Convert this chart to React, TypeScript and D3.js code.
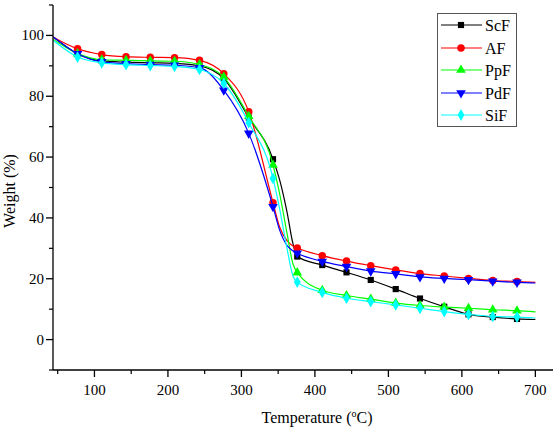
import React from "react";
import * as d3 from "d3";

const lineTemps = [44, 77, 110, 143, 176, 209, 243, 276, 310, 343, 352, 362, 370, 376, 410, 443, 476, 510, 543, 576, 609, 642, 675, 700];
const markerTemps = [77, 110, 143, 176, 209, 243, 276, 310, 343, 376, 410, 443, 476, 510, 543, 576, 609, 642, 675];

const scF = [99.5, 94.0, 91.6, 91.2, 91.0, 90.8, 90.0, 85.8, 73.0, 59.3, 52.5, 42, 31.7, 27.3, 24.5, 22.1, 19.6, 16.6, 13.5, 10.8, 8.3, 7.4, 6.8, 6.6];
const aF = [99.4, 95.6, 93.7, 93.0, 92.8, 92.7, 91.8, 87.4, 74.9, 45.0, 37, 32.5, 30.8, 30.1, 27.6, 25.8, 24.3, 22.9, 21.7, 20.9, 20.1, 19.4, 19.1, 18.8];
const ppF = [98.7, 94.0, 92.0, 91.8, 91.6, 91.5, 90.4, 86.3, 73.4, 57.4, 48, 35, 25, 22.0, 16.2, 14.5, 13.3, 12.0, 11.2, 10.7, 10.3, 9.8, 9.5, 9.1];
const pdF = [99.5, 94.0, 91.3, 90.7, 90.4, 90.2, 89.4, 82.0, 67.8, 43.7, 36, 31, 29.2, 28.4, 25.7, 24.0, 22.5, 21.6, 20.6, 20.1, 19.7, 19.2, 18.8, 18.6];
const siF = [98.3, 92.9, 91.0, 90.4, 90.1, 89.8, 88.8, 84.2, 71.3, 53, 43, 30, 21, 18.9, 15.5, 13.6, 12.5, 11.4, 10.3, 9.2, 8.3, 7.6, 7.4, 7.1];

const seriesNames = ["ScF", "AF", "PpF", "PdF", "SiF"];
const seriesValues = [scF, aF, ppF, pdF, siF];
const seriesColors = ["#000000", "#ff0000", "#00ff00", "#0000ff", "#00ffff"];
const seriesSymbols = [d3.symbolSquare, d3.symbolCircle, d3.symbolTriangle, d3.symbolTriangle, d3.symbolDiamond];
const seriesRotate = [0, 0, 0, 180, 0];
const symbolSizes = [38, 44, 40, 40, 40];

const xMajorTicks = [100, 200, 300, 400, 500, 600, 700];
const xMinorTicks = [50, 150, 250, 350, 450, 550, 650];
const yMajorTicks = [0, 20, 40, 60, 80, 100];
const yMinorTicks = [-10, 10, 30, 50, 70, 90, 110];

const FONT = "'Liberation Serif', 'Times New Roman', serif";

export default function App() {
  const x = d3.scaleLinear().domain([43.6, 724]).range([53, 553]);
  const y = d3.scaleLinear().domain([-10, 110]).range([370, 5]);
  const line = d3
    .line<[number, number]>()
    .x((d) => x(d[0]))
    .y((d) => y(d[1]))
    .curve(d3.curveMonotoneX);

  const legendY = [25, 48, 70, 93, 115];

  return (
    <svg width={557} height={428} style={{ position: "absolute", left: 0, top: 0, background: "#fff" }}>
      <rect x={0} y={0} width={557} height={428} fill="#fff" />
      {seriesValues.map((vals, si) => {
        const pts: [number, number][] = lineTemps.map((t, i) => [t, vals[i]]);
        const sym = d3.symbol().type(seriesSymbols[si]).size(symbolSizes[si])();
        return (
          <g key={si}>
            <path d={line(pts) || ""} fill="none" stroke={seriesColors[si]} strokeWidth={1.2} />
            {pts
              .filter((p) => markerTemps.includes(p[0]))
              .map((p, i) => (
                <path
                  key={i}
                  d={sym || ""}
                  fill={seriesColors[si]}
                  transform={`translate(${x(p[0])},${y(p[1])}) rotate(${seriesRotate[si]})`}
                />
              ))}
          </g>
        );
      })}
      {/* axes */}
      <line x1={53} x2={53} y1={5} y2={370} stroke="#000" strokeWidth={1.3} />
      <line x1={53} x2={553} y1={370} y2={370} stroke="#000" strokeWidth={1.3} />
      {yMajorTicks.map((t) => (
        <g key={"ym" + t}>
          <line x1={46} x2={53} y1={y(t)} y2={y(t)} stroke="#000" strokeWidth={1.3} />
          <text x={44} y={y(t) + 5} textAnchor="end" fontFamily={FONT} fontSize={15}>
            {t}
          </text>
        </g>
      ))}
      {yMinorTicks.map((t) => (
        <line key={"yn" + t} x1={49} x2={53} y1={y(t)} y2={y(t)} stroke="#000" strokeWidth={1.2} />
      ))}
      {xMajorTicks.map((t) => (
        <g key={"xm" + t}>
          <line x1={x(t)} x2={x(t)} y1={370} y2={377} stroke="#000" strokeWidth={1.3} />
          <text x={x(t)} y={395} textAnchor="middle" fontFamily={FONT} fontSize={15}>
            {t}
          </text>
        </g>
      ))}
      {xMinorTicks.map((t) => (
        <line key={"xn" + t} x1={x(t)} x2={x(t)} y1={370} y2={374} stroke="#000" strokeWidth={1.2} />
      ))}
      <text x={317} y={423} textAnchor="middle" fontFamily={FONT} fontSize={16}>
        Temperature (<tspan fontSize={10} dy={-6}>o</tspan>
        <tspan dy={6}>C)</tspan>
      </text>
      <text
        transform={`translate(15,191) rotate(-90)`}
        textAnchor="middle"
        fontFamily={FONT}
        fontSize={16}
      >
        Weight (%)
      </text>
      {/* legend */}
      <rect x={437.5} y={13.5} width={79} height={113} fill="#fff" stroke="#555" strokeWidth={1} />
      {seriesNames.map((n, si) => {
        const sym = d3.symbol().type(seriesSymbols[si]).size(symbolSizes[si])();
        const ly = legendY[si];
        return (
          <g key={n}>
            <line x1={441} x2={482} y1={ly} y2={ly} stroke={seriesColors[si]} strokeWidth={1.2} />
            <path d={sym || ""} fill={seriesColors[si]} transform={`translate(461,${ly}) rotate(${seriesRotate[si]})`} />
            <text x={485} y={ly + 6} fontFamily={FONT} fontSize={16}>
              {n}
            </text>
          </g>
        );
      })}
    </svg>
  );
}
